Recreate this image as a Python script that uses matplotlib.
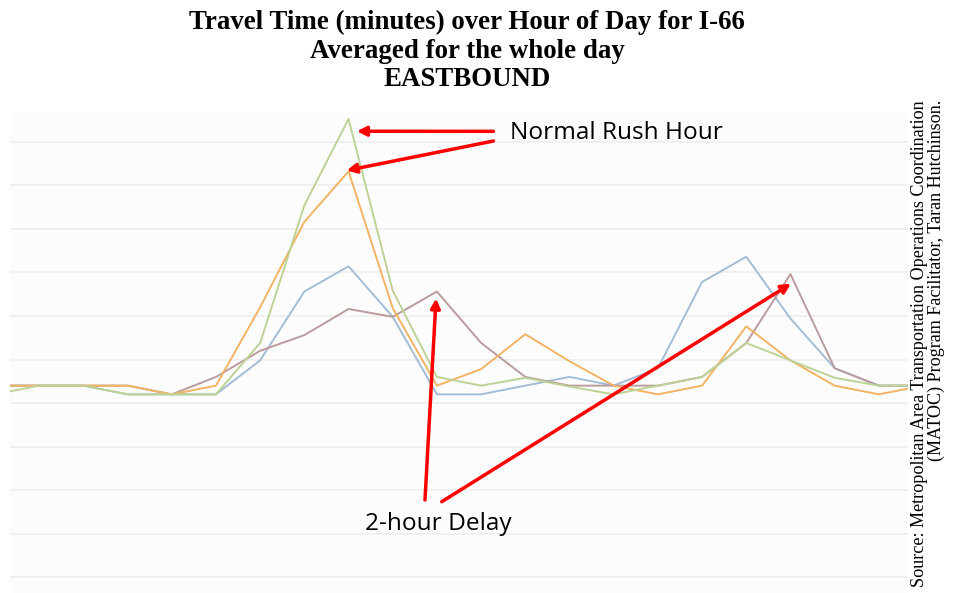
import matplotlib
matplotlib.use("Agg")
import matplotlib.pyplot as plt

# hourly travel time (minutes), one list per day
hours = list(range(22))
green = [21, 22, 22, 21, 21, 21, 26.9, 42.7, 52.6, 32.9, 23, 22, 22.9, 21.9, 21, 22, 23, 26.9, 24.9, 22.9, 22, 22]
orange = [22, 22, 22, 22, 21, 22, 31, 40.8, 46.6, 30.9, 22, 23.9, 27.9, 24.8, 22, 21, 22, 28.8, 24.9, 22, 21, 22]
blue = [22, 22, 22, 21, 21, 21, 24.9, 32.8, 35.7, 29.9, 21, 21, 22, 23, 22, 24, 33.9, 36.8, 29.7, 24, 22, 22]
mauve = [22, 22, 22, 22, 21, 23, 26, 27.8, 30.8, 29.9, 32.8, 26.9, 23, 22, 22, 22, 23, 26.9, 34.8, 24, 22, 22]

title_lines = ["Travel Time (minutes) over Hour of Day for I-66",
               "Averaged for the whole day",
               "EASTBOUND"]
source = ("Source: Metropolitan Area Transportation Operations Coordination\n"
          "(MATOC) Program Facilitator, Taran Hutchinson.")

fig = plt.figure(figsize=(9.54, 5.93), dpi=100)
ax = fig.add_axes([0.0105, 0.0, 0.9413, 0.811])
ax.set_facecolor("#fcfcfc")

ax.plot(hours, blue, color="#a3bdd6", lw=1.4)
ax.plot(hours, mauve, color="#bb9c9c", lw=1.4)
ax.plot(hours, orange, color="#f1b465", lw=1.4)
ax.plot(hours, green, color="#bcd395", lw=1.4)

ax.set_xlim(0.34, 20.66)
ax.set_ylim(-1.8, 53.4)
ax.set_yticks(range(0, 55, 5))
ax.grid(axis="y", color="#eeeeee", lw=1.2)
ax.set_axisbelow(True)
ax.tick_params(left=False, bottom=False, labelleft=False, labelbottom=False)
for s in ax.spines.values():
    s.set_visible(False)

arrow = dict(arrowstyle="-|>,head_length=0.55,head_width=0.28", color="red",
             lw=2.5, shrinkA=0, shrinkB=0)

# rush hour peaks
ax.annotate("", xy=(8.19, green[8] - 1.4), xytext=(11.28, 51.19), arrowprops=arrow)
ax.annotate("", xy=(7.96, orange[8] + 0.1), xytext=(11.28, 50.08), arrowprops=arrow)
ax.text(11.66, 50.95, "Normal Rush Hour", fontsize=17.6, family="Open Sans",
        ha="left", va="center")

# delayed peaks
ax.annotate("", xy=(9.98, mauve[10] - 0.8), xytext=(9.73, 8.88), arrowprops=arrow)
ax.annotate("", xy=(18.01, mauve[18] - 1.1), xytext=(10.11, 8.68), arrowprops=arrow)
ax.text(10.03, 6.1, "2-hour Delay", fontsize=17.6, family="Open Sans",
        ha="center", va="center")

for y, line in zip([22, 51, 80], title_lines):
    fig.text(467 / 954, 1 - y / 593, line, ha="center", va="center",
             fontsize=19.4, fontweight="bold", family="Liberation Serif")

fig.text(928 / 954, 1 - 100 / 593, source, rotation=90, ha="center", va="top",
         multialignment="right", fontsize=13.1, family="Liberation Serif",
         linespacing=1.0)

fig.savefig("out.png", dpi=100)
